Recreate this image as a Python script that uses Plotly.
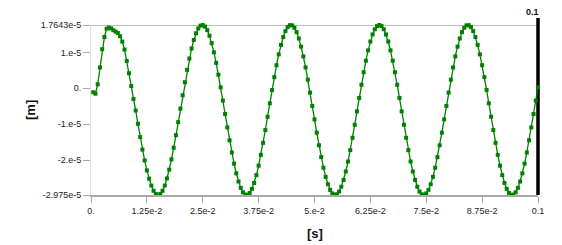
import plotly.graph_objects as go

# time [s] (0.0005 s steps)
time_s = [round(0.0005 * k, 4) for k in range(1, 201)]

# displacement in units of 1e-5 m
disp_e5 = [
    -0.11, -0.15, 0.11, 0.58, 1.09, 1.43, 1.66, 1.69, 1.67, 1.62,
    1.58, 1.54, 1.45, 1.30, 1.08, 0.76, 0.42, 0.06, -0.30, -0.62,
    -0.99, -1.36, -1.71, -2.01, -2.29, -2.52, -2.712, -2.857, -2.945, -2.975,
    -2.945, -2.857, -2.712, -2.514, -2.268, -1.980, -1.658, -1.309, -0.943, -0.568,
    -0.194, 0.170, 0.514, 0.830, 1.110, 1.346, 1.534, 1.668, 1.745, 1.763,
    1.721, 1.621, 1.466, 1.258, 1.003, 0.707, 0.379, 0.026, -0.343, -0.718,
    -1.091, -1.451, -1.790, -2.100, -2.372, -2.599, -2.776, -2.899, -2.964, -2.970,
    -2.917, -2.805, -2.639, -2.421, -2.157, -1.855, -1.521, -1.164, -0.793, -0.418,
    -0.047, 0.310, 0.644, 0.946, 1.210, 1.428, 1.595, 1.706, 1.760, 1.754,
    1.688, 1.566, 1.388, 1.161, 0.889, 0.580, 0.240, -0.120, -0.493, -0.868,
    -1.237, -1.590, -1.918, -2.214, -2.469, -2.676, -2.832, -2.932, -2.974, -2.956,
    -2.879, -2.745, -2.557, -2.320, -2.041, -1.725, -1.381, -1.017, -0.643, -0.268,
    0.098, 0.447, 0.769, 1.057, 1.303, 1.501, 1.646, 1.734, 1.7643, 1.734,
    1.646, 1.501, 1.303, 1.057, 0.769, 0.447, 0.098, -0.268, -0.643, -1.017,
    -1.381, -1.725, -2.041, -2.320, -2.557, -2.745, -2.879, -2.956, -2.974, -2.932,
    -2.832, -2.676, -2.469, -2.214, -1.918, -1.590, -1.237, -0.868, -0.493, -0.120,
    0.240, 0.580, 0.889, 1.161, 1.388, 1.566, 1.688, 1.754, 1.760, 1.706,
    1.595, 1.428, 1.210, 0.946, 0.644, 0.310, -0.047, -0.418, -0.793, -1.164,
    -1.521, -1.855, -2.157, -2.421, -2.639, -2.805, -2.917, -2.970, -2.964, -2.899,
    -2.776, -2.599, -2.372, -2.100, -1.790, -1.451, -1.091, -0.718, -0.343, 0.026,
]
disp_m = [v * 1e-5 for v in disp_e5]

y_tick_vals = [1.7643e-5, 1e-5, 0.0, -1e-5, -2e-5, -2.975e-5]
y_tick_text = ["1.7643e-5", "1.e-5", "0.", "-1.e-5", "-2.e-5", "-2.975e-5"]
x_tick_vals = [0.0, 0.0125, 0.025, 0.0375, 0.05, 0.0625, 0.075, 0.0875, 0.1]
x_tick_text = ["0.", "1.25e-2", "2.5e-2", "3.75e-2", "5.e-2", "6.25e-2", "7.5e-2", "8.75e-2", "0.1"]
cursor_x = 0.1
cursor_label = "0.1"

green = "#008000"
fnt = "Liberation Sans"
H, T, B = 245, 25, 50
PH = H - T - B
xmin, xmax = 0.0, 0.1
ymin, ymax = -2.975e-5, 1.7643e-5
cursor_paper = (cursor_x - xmin) / (xmax - xmin)

fig = go.Figure()
fig.add_trace(go.Scatter(
    x=time_s, y=disp_m, mode="lines+markers",
    line=dict(color=green, width=1.3),
    marker=dict(symbol="square", size=4, color=green),
    showlegend=False, hoverinfo="skip", cliponaxis=False,
))

fig.update_layout(
    width=562, height=H,
    margin=dict(l=91, r=24, t=T, b=B),
    paper_bgcolor="white", plot_bgcolor="white",
    font=dict(family=fnt, size=9, color="#222"),
    xaxis=dict(
        range=[xmin, xmax], tickvals=x_tick_vals, ticktext=x_tick_text, automargin=False,
        showgrid=False, zeroline=False, showline=True, linecolor="#a8a8a8", linewidth=1.5,
        ticks="outside", ticklen=6, tickcolor="#a8a8a8", tickwidth=1,
        tickfont=dict(size=9, family=fnt, color="#222"),
    ),
    yaxis=dict(
        range=[ymin, ymax], tickvals=y_tick_vals, ticktext=y_tick_text, automargin=False,
        showgrid=False, zeroline=False, showline=True, linecolor="#e0e0e0", linewidth=1,
        ticks="outside", ticklen=7, tickcolor="#a8a8a8", tickwidth=1,
        tickfont=dict(size=9, family=fnt, color="#222"),
    ),
    shapes=[
        dict(type="line", xref="paper", yref="y", x0=0, x1=1, y0=ymax, y1=ymax,
             line=dict(color="#a8a8a8", width=1.5), layer="below"),
        dict(type="line", xref="paper", yref="paper", x0=cursor_paper, x1=cursor_paper,
             y0=0, y1=1 + 7 / PH, line=dict(color="black", width=3.5), layer="below"),
    ],
    annotations=[
        dict(x=cursor_x, y=1 + (T - 11.5) / PH, xref="x", yref="paper",
             text="<b>" + cursor_label + "</b>", showarrow=False, xanchor="right", xshift=3,
             yanchor="middle", font=dict(size=9, family=fnt, color="#111")),
        dict(x=0.5, y=-(233 - (H - B)) / PH, xref="paper", yref="paper",
             text="<b>[s]</b>", showarrow=False, yanchor="middle",
             font=dict(size=13, family=fnt, color="#111")),
        dict(x=-(91 - 30) / 447, y=(H - B - 110) / PH, xref="paper", yref="paper",
             text="<b>[m]</b>", showarrow=False, textangle=-90, xanchor="center", yanchor="middle",
             font=dict(size=13, family=fnt, color="#111")),
    ],
)

fig.write_html("out.html")
